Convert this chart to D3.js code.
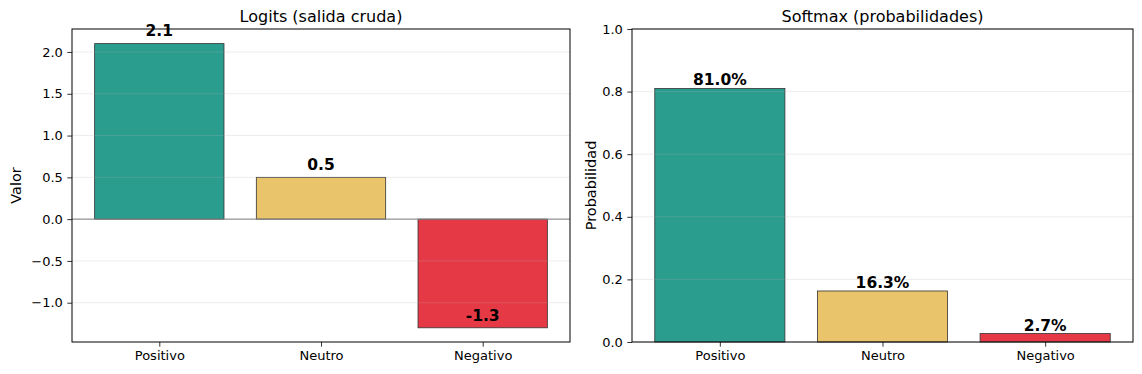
<!DOCTYPE html>
<html>
<head>
<meta charset="utf-8">
<script src="https://cdn.jsdelivr.net/npm/d3@7"></script>
<style>
  body { margin: 0; background: #fff; }
  svg text { font-family: "DejaVu Sans", sans-serif; fill: #000; }
</style>
</head>
<body>
<svg id="chart"></svg>
<script>
// Chart data
const categories = ["Positivo", "Neutro", "Negativo"];
const logits = [2.1, 0.5, -1.3];
const probs = [0.810, 0.163, 0.027];
const barColors = ["#2a9d8f", "#e9c46a", "#e63946"];
const logitTicks = [-1.0, -0.5, 0.0, 0.5, 1.0, 1.5, 2.0];
const probTicks = [0.0, 0.2, 0.4, 0.6, 0.8, 1.0];

const width = 1142, height = 374;
const svg = d3.select("#chart").attr("width", width).attr("height", height);

const plotTop = 29, plotBottom = 342;

function drawPanel(opt) {
  const g = svg.append("g");
  const x = d3.scaleLinear().domain([-0.54, 2.54]).range([opt.left, opt.right]);
  const y = d3.scaleLinear().domain(opt.yDomain).range([plotBottom, plotTop]);
  const bw = x(0.4) - x(-0.4);

  // bars
  g.selectAll("rect.bar")
    .data(opt.values)
    .enter()
    .append("rect")
    .attr("class", "bar")
    .attr("x", (d, i) => x(i) - bw / 2)
    .attr("y", d => y(Math.max(0, d)))
    .attr("width", bw)
    .attr("height", d => Math.abs(y(d) - y(0)))
    .attr("fill", (d, i) => barColors[i])
    .attr("stroke", "#333")
    .attr("stroke-width", 0.8);

  // grid (drawn over bars, faint)
  g.selectAll("line.grid")
    .data(opt.ticks)
    .enter()
    .append("line")
    .attr("x1", opt.left).attr("x2", opt.right)
    .attr("y1", d => y(d)).attr("y2", d => y(d))
    .attr("stroke", "#b0b0b0")
    .attr("stroke-opacity", 0.3)
    .attr("stroke-width", 0.8);

  if (opt.zeroLine) {
    g.append("line")
      .attr("x1", opt.left).attr("x2", opt.right)
      .attr("y1", y(0)).attr("y2", y(0))
      .attr("stroke", "gray")
      .attr("stroke-width", 1);
  }

  // value labels
  g.selectAll("text.val")
    .data(opt.values)
    .enter()
    .append("text")
    .attr("x", (d, i) => x(i))
    .attr("y", d => y(d + opt.labelOffset) - opt.labelPad)
    .attr("text-anchor", "middle")
    .attr("font-size", 15.5)
    .attr("font-weight", "bold")
    .text(opt.labelFormat);

  // axes
  const yAxis = d3.axisLeft(y).tickValues(opt.ticks).tickFormat(d3.format(".1f"))
    .tickSizeOuter(0).tickSize(4.7).tickPadding(4.5);
  const ya = g.append("g").attr("transform", `translate(${opt.left},0)`).call(yAxis);
  ya.select(".domain").remove();

  const xAxis = d3.axisBottom(x).tickValues([0, 1, 2]).tickFormat(i => categories[i])
    .tickSizeOuter(0).tickSize(4.7).tickPadding(4.5);
  const xa = g.append("g").attr("transform", `translate(0,${plotBottom})`).call(xAxis);
  xa.select(".domain").remove();

  [ya, xa].forEach(a => {
    a.selectAll("text").attr("font-size", 13).attr("font-family", "DejaVu Sans").attr("fill", "#000");
    a.selectAll("line").attr("stroke", "#000").attr("stroke-width", 0.8);
  });

  // frame
  g.append("rect")
    .attr("x", opt.left).attr("y", plotTop)
    .attr("width", opt.right - opt.left).attr("height", plotBottom - plotTop)
    .attr("fill", "none").attr("stroke", "#000").attr("stroke-width", 1);

  // title
  g.append("text")
    .attr("x", (opt.left + opt.right) / 2).attr("y", 22)
    .attr("text-anchor", "middle").attr("font-size", 16)
    .text(opt.title);

  // y label
  g.append("text")
    .attr("transform", `translate(${opt.ylabelX},${(plotTop + plotBottom) / 2}) rotate(-90)`)
    .attr("text-anchor", "middle").attr("font-size", 14.5)
    .text(opt.ylabel);
}

drawPanel({
  left: 72, right: 570,
  yDomain: [-1.47, 2.275],
  values: logits,
  ticks: logitTicks,
  zeroLine: true,
  labelOffset: 0.05,
  labelPad: 3,
  labelFormat: d => d.toFixed(1),
  title: "Logits (salida cruda)",
  ylabel: "Valor",
  ylabelX: 21
});

drawPanel({
  left: 632, right: 1133,
  yDomain: [0, 1],
  values: probs,
  ticks: probTicks,
  zeroLine: false,
  labelOffset: 0,
  labelPad: 3,
  labelFormat: d => (d * 100).toFixed(1) + "%",
  title: "Softmax (probabilidades)",
  ylabel: "Probabilidad",
  ylabelX: 596
});
</script>
</body>
</html>
